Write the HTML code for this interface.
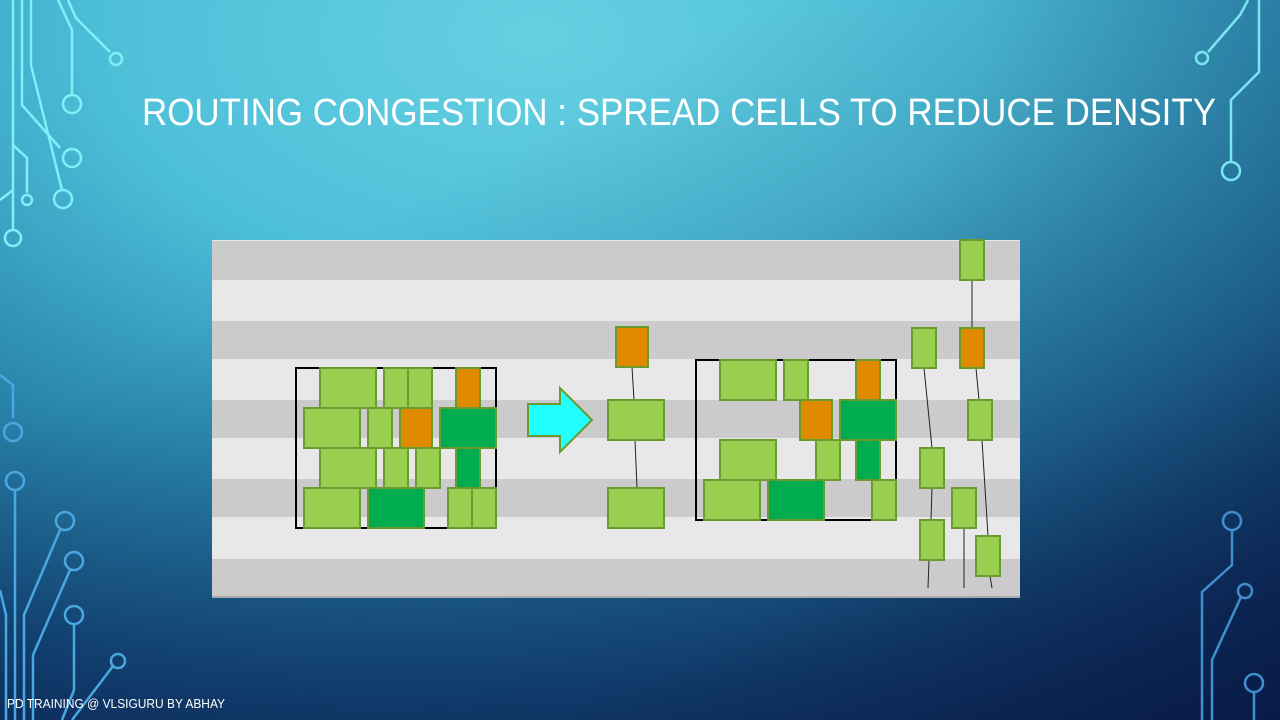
<!DOCTYPE html>
<html><head><meta charset="utf-8"><style>
html,body{margin:0;padding:0;width:1280px;height:720px;overflow:hidden}
svg{display:block}
</style></head><body>
<svg width="1280" height="720" viewBox="0 0 1280 720" xmlns="http://www.w3.org/2000/svg">
<defs>
<radialGradient id="bg" cx="0.42" cy="0.05" r="1.15" fx="0.42" fy="0.05">
<stop offset="0" stop-color="#66d0e2"/>
<stop offset="0.3" stop-color="#4cbfd8"/>
<stop offset="0.55" stop-color="#2a88ae"/>
<stop offset="0.8" stop-color="#134676"/>
<stop offset="1" stop-color="#0a1e4c"/>
</radialGradient>
<linearGradient id="ov" x1="0.3" y1="0.3" x2="1" y2="1">
<stop offset="0" stop-color="#0a1e4c" stop-opacity="0"/>
<stop offset="0.6" stop-color="#0a1e4c" stop-opacity="0.35"/>
<stop offset="1" stop-color="#081a46" stop-opacity="0.9"/>
</linearGradient>
</defs>
<rect width="1280" height="720" fill="url(#bg)"/>
<rect width="1280" height="720" fill="url(#ov)"/>
<!-- circuits top-left -->
<g fill="none" stroke="#7ff0f8" stroke-width="2.5">
<path d="M13 0 V230"/><circle cx="13" cy="238" r="8"/>
<path d="M22 0 V105 L60 148"/><circle cx="72" cy="158" r="9"/>
<path d="M31 0 V65 L62 190"/><circle cx="63" cy="199" r="9"/>
<path d="M58 0 L72 30 V95"/><circle cx="72" cy="104" r="9"/>
<path d="M68 0 L76 18 L110 52"/><circle cx="116" cy="59" r="6"/>
<path d="M13 145 L27 158 V193"/><circle cx="27" cy="200" r="5"/>
<path d="M0 200 L13 190"/>
</g>
<!-- circuits bottom-left -->
<g fill="none" stroke="#4aa8e0" stroke-width="2.5">
<path d="M0 375 L13 385 V418"/><circle cx="13" cy="432" r="9"/>
<circle cx="15" cy="481" r="9"/><path d="M15 490 V720"/>
<circle cx="65" cy="521" r="9"/><path d="M60 530 L24 615 V720"/>
<circle cx="74" cy="561" r="9"/><path d="M70 570 L33 655 V720"/>
<circle cx="74" cy="615" r="9"/><path d="M74 624 V690 L62 720"/>
<circle cx="118" cy="661" r="7"/><path d="M113 666 L72 720"/>
<path d="M0 590 L6 615 V720"/>
</g>
<!-- circuits right -->
<g fill="none" stroke="#7ae6f0" stroke-width="2.5">
<path d="M1248 0 L1240 15 L1208 52"/><circle cx="1202" cy="58" r="6"/>
<path d="M1259 0 V72 L1231 100 V162"/><circle cx="1231" cy="171" r="9"/>
</g>
<g fill="none" stroke="#3f8fcf" stroke-width="2.5">
<circle cx="1232" cy="521" r="9"/><path d="M1232 530 V565 L1202 592 V720"/>
<circle cx="1245" cy="591" r="7"/><path d="M1241 597 L1212 660 V720"/>
<circle cx="1254" cy="683" r="9"/><path d="M1254 692 V720"/>
</g>
<text x="142" y="125" fill="#fff" font-family="Liberation Sans, sans-serif" font-size="38" textLength="1074" lengthAdjust="spacingAndGlyphs">ROUTING CONGESTION : SPREAD CELLS TO REDUCE DENSITY</text>
<text x="7" y="708" fill="#fff" font-family="Liberation Sans, sans-serif" font-size="12.5" textLength="218" lengthAdjust="spacingAndGlyphs">PD TRAINING  @ VLSIGURU  BY ABHAY</text>
<!-- panel -->
<rect x="212" y="240" width="808" height="358" fill="#e8e8e8"/>
<g fill="#cbcbcb">
<rect x="212" y="241" width="808" height="39"/>
<rect x="212" y="321" width="808" height="38"/>
<rect x="212" y="400" width="808" height="38"/>
<rect x="212" y="479" width="808" height="38"/>
<rect x="212" y="559" width="808" height="38"/>
</g>
<rect x="212" y="596" width="808" height="2" fill="#aaa"/>
<!-- boxes -->
<rect x="296" y="368" width="200" height="160" fill="none" stroke="#000" stroke-width="2"/>
<rect x="696" y="360" width="200" height="160" fill="none" stroke="#000" stroke-width="2"/>
<!-- lines -->
<g stroke="#222" stroke-width="1">
<line x1="632" y1="367" x2="634" y2="400"/><line x1="635" y1="440" x2="637" y2="488"/>
<line x1="972" y1="280" x2="972" y2="328"/><line x1="924" y1="368" x2="932" y2="448"/>
<line x1="976" y1="368" x2="979" y2="400"/><line x1="982" y1="440" x2="988" y2="536"/>
<line x1="932" y1="488" x2="931" y2="520"/><line x1="929" y1="560" x2="928" y2="588"/>
<line x1="964" y1="528" x2="964" y2="588"/><line x1="990" y1="576" x2="992" y2="588"/>
</g>
<g stroke="#6a9a30" stroke-width="2">
<g fill="#98cf4f">
<rect x="320" y="368" width="56" height="40"/><rect x="384" y="368" width="24" height="40"/><rect x="408" y="368" width="24" height="40"/>
<rect x="304" y="408" width="56" height="40"/><rect x="368" y="408" width="24" height="40"/>
<rect x="320" y="448" width="56" height="40"/><rect x="384" y="448" width="24" height="40"/><rect x="416" y="448" width="24" height="40"/>
<rect x="304" y="488" width="56" height="40"/><rect x="448" y="488" width="24" height="40"/><rect x="472" y="488" width="24" height="40"/>
<rect x="608" y="400" width="56" height="40"/><rect x="608" y="488" width="56" height="40"/>
<rect x="720" y="360" width="56" height="40"/><rect x="784" y="360" width="24" height="40"/>
<rect x="720" y="440" width="56" height="40"/><rect x="816" y="440" width="24" height="40"/>
<rect x="704" y="480" width="56" height="40"/><rect x="872" y="480" width="24" height="40"/>
<rect x="960" y="240" width="24" height="40"/><rect x="912" y="328" width="24" height="40"/>
<rect x="968" y="400" width="24" height="40"/><rect x="920" y="448" width="24" height="40"/>
<rect x="952" y="488" width="24" height="40"/><rect x="920" y="520" width="24" height="40"/>
<rect x="976" y="536" width="24" height="40"/>
</g>
<g fill="#e08a00">
<rect x="456" y="368" width="24" height="40"/><rect x="400" y="408" width="32" height="40"/>
<rect x="616" y="327" width="32" height="40"/>
<rect x="856" y="360" width="24" height="40"/><rect x="800" y="400" width="32" height="40"/>
<rect x="960" y="328" width="24" height="40"/>
</g>
<g fill="#00ad4e">
<rect x="440" y="408" width="56" height="40"/><rect x="456" y="448" width="24" height="40"/><rect x="368" y="488" width="56" height="40"/>
<rect x="840" y="400" width="56" height="40"/><rect x="856" y="440" width="24" height="40"/><rect x="768" y="480" width="56" height="40"/>
</g>
</g>
<polygon points="528,404 560,404 560,388 592,420 560,452 560,436 528,436" fill="#22ffff" stroke="#6a9a30" stroke-width="2"/>
</svg>
</body></html>
